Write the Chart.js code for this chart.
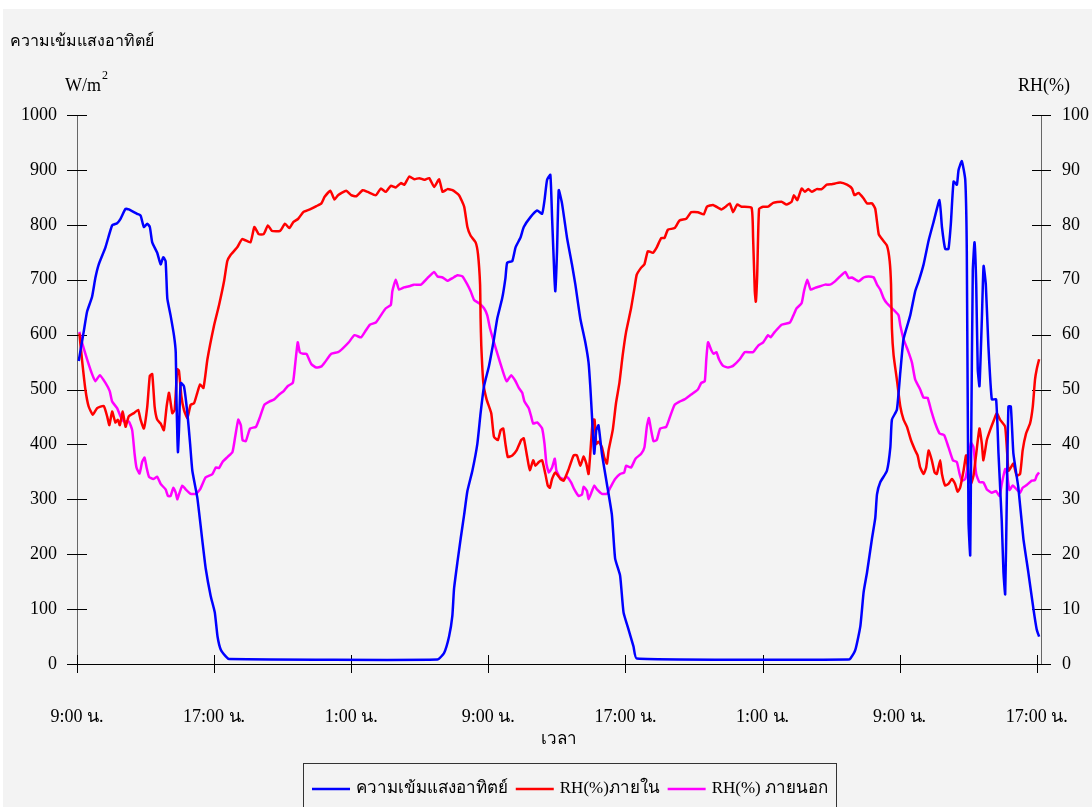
<!DOCTYPE html>
<html>
<head>
<meta charset="utf-8">
<script src="https://cdn.jsdelivr.net/npm/chart.js@4/dist/chart.umd.min.js"></script>
<style>
  html, body { margin: 0; padding: 0; background: #ffffff; }
  #c { display: block; }
</style>
</head>
<body>
<canvas id="c" width="1092" height="807"></canvas>
<script>
// Time axis: hours elapsed since 9:00 on the first day
const tickHours = [0, 8, 16, 24, 32, 40, 48, 56];
const tickLabels = ['9:00 น.', '17:00 น.', '1:00 น.', '9:00 น.', '17:00 น.', '1:00 น.', '9:00 น.', '17:00 น.'];

// Solar radiation (W/m²)
const solarHours = [0.1,0.39,0.59,0.88,1.07,1.27,1.66,2.05,2.34,2.54,2.83,3.02,3.51,3.71,3.9,4.1,4.25,4.39,4.68,4.88,5.03,5.17,5.27,5.46,5.66,5.76,5.81,5.89,5.95,6.05,6.24,6.44,6.6,6.73,7.02,7.32,7.51,7.8,8.04,8.2,8.39,8.68,8.88,
  21.03,21.42,21.71,21.9,22.0,22.2,22.39,22.59,22.78,23.07,23.36,23.55,23.75,24.04,24.33,24.52,24.81,25.0,25.1,25.4,25.59,25.88,26.07,26.46,26.85,27.14,27.28,27.43,27.62,27.72,27.86,27.91,28.01,28.11,28.3,28.59,28.88,29.08,29.37,29.66,29.85,29.95,30.05,30.18,30.3,30.43,30.63,30.92,31.21,31.4,31.69,31.89,32.18,32.47,32.66,
  45.0,45.13,45.42,45.71,45.9,46.1,46.39,46.58,46.68,46.87,47.26,47.46,47.55,47.84,48.04,48.23,48.62,48.91,49.11,49.4,49.69,49.98,50.33,50.47,50.66,50.85,50.99,51.15,51.34,51.44,51.63,51.83,51.92,52.02,52.12,52.17,52.27,52.37,52.47,52.56,52.66,52.8,52.9,53.03,53.18,53.38,53.63,53.77,53.96,54.06,54.16,54.25,54.35,54.49,54.64,54.93,55.22,55.51,55.81,56.0,56.14];
const solarValues = [552,605,642,669,703,728,759,799,803,811,829,828,820,817,796,802,796,768,749,728,741,734,666,635,598,568,475,386,426,512,506,457,401,352,303,223,174,124,94,50,26,14,9,
  8,20,50,87,137,186,229,272,315,352,401,457,506,543,592,629,666,703,731,734,759,777,796,814,826,820,845,882,891,814,703,679,752,863,839,777,728,691,629,586,549,506,451,383,426,435,383,328,272,192,161,94,63,32,10,
  8,10,26,69,131,167,229,266,309,331,352,395,445,463,531,592,635,679,697,728,771,805,845,796,756,756,802,879,873,900,916,882,752,260,198,383,716,768,691,537,506,629,725,691,580,482,482,383,260,167,127,291,469,469,383,321,229,167,100,63,50];

// Relative humidity inside (%)
const rhInHours = [0.14,0.29,0.49,0.68,0.92,1.17,1.56,1.76,1.89,2.05,2.24,2.38,2.5,2.67,2.83,3.02,3.32,3.57,3.71,3.9,4.1,4.25,4.39,4.53,4.68,4.88,5.07,5.23,5.37,5.56,5.7,5.85,5.95,6.09,6.24,6.44,6.63,6.83,7.02,7.18,7.38,7.61,8.0,8.29,8.58,8.77,8.96,9.35,9.64,10.12,10.35,10.6,10.89,11.14,11.37,11.85,12.14,12.39,12.62,12.91,13.2,13.59,13.97,14.26,14.45,14.78,15.03,15.23,15.71,16.0,16.29,16.67,16.96,17.44,17.73,18.02,18.31,18.6,18.9,19.1,19.39,19.68,19.97,20.26,20.55,20.84,21.13,21.33,21.62,21.91,22.29,22.59,22.78,22.97,23.26,23.4,23.52,23.55,23.59,23.71,23.9,24.17,24.33,24.56,24.72,24.87,25.0,25.14,25.4,25.65,25.92,26.07,26.27,26.42,26.62,26.75,26.95,27.14,27.33,27.47,27.59,27.72,27.91,28.21,28.4,28.69,28.98,29.17,29.37,29.56,29.72,29.85,29.99,30.1,30.2,30.3,30.43,30.63,30.76,30.92,31.02,31.26,31.45,31.65,31.84,32.04,32.33,32.53,32.66,32.92,33.11,33.31,33.6,33.83,34.09,34.28,34.48,34.87,35.16,35.55,35.84,36.23,36.57,36.76,37.11,37.6,37.85,38.09,38.28,38.52,38.77,39.36,39.45,39.55,39.61,39.69,39.8,40.04,40.33,40.62,41.11,41.4,41.7,41.83,42.03,42.28,42.48,42.67,42.87,43.16,43.45,43.75,44.04,44.54,44.93,45.22,45.36,45.61,45.9,46.1,46.39,46.58,46.78,46.97,47.26,47.42,47.5,47.55,47.65,47.84,48.04,48.23,48.43,48.66,48.91,49.05,49.2,49.4,49.55,49.69,49.88,50.04,50.17,50.37,50.47,50.66,50.85,51.05,51.24,51.38,51.53,51.73,51.88,52.02,52.16,52.31,52.47,52.66,52.8,52.89,53.09,53.28,53.51,53.67,53.86,54.16,54.35,54.49,54.64,54.83,55.03,55.18,55.38,55.61,55.77,55.9,56.0,56.14];
const rhInValues = [60.2,55.5,50,46.9,45.4,46.6,47,45.1,43.5,46,44,44.5,43.5,46,43.2,45.1,45.7,46.3,44.5,42.9,46.9,52.5,52.8,46.9,44.5,43.8,42.6,46.9,49.4,45.7,46.3,53.7,53.4,48.8,46.3,44.8,47.2,47.5,49.4,50.9,50.3,55.5,61.7,65.4,69.7,73.4,74.5,75.9,77.4,76.8,79.6,78.3,78.3,79.9,78.9,78.9,80.2,79.4,80.5,81.1,82.3,82.8,83.4,83.9,85.1,86.2,84.6,85.4,86.2,85.4,85.2,86.3,86,85.4,86.6,86,87.1,86.8,87.6,87.3,88.8,88.3,88.5,88.2,88.5,86.9,88.3,86,86.5,86.3,85.4,83.3,79.6,78,76.8,74.6,69.1,62.9,58,51.2,48.2,45.7,41.4,40.8,42.6,42.9,40.1,37.7,38,38.9,40.8,41.1,37.7,35.3,37.1,36.1,36.8,37.1,34.6,32.5,32.1,33.7,34.9,33.7,33.4,35.5,38,38,36.1,37.8,36.5,34.6,40.1,44.5,44.5,40.1,40.5,39.5,37.7,36.5,38.9,42.6,47.5,51.2,56.2,60.5,64.8,68.5,70.9,72.2,72.8,75.2,74.9,75.9,77.6,77.6,79.1,79.4,80.8,81.1,82.3,82.3,81.9,83.3,83.6,82.8,83.3,83.9,82.3,83.7,83.3,83.1,77.7,67.9,66,70.9,82.9,83.3,83.3,84,84.2,83.7,84.2,85.4,84.5,86.6,86,86.5,86,86.5,86.5,87.3,87.4,87.7,87.3,86.6,85.4,85.8,84.8,83.9,83.9,82.9,78.3,77.4,76.2,73.4,69.1,61.1,56.2,51.8,46.9,44.5,43.2,40.8,38.9,38,35.8,34.6,35.8,38.9,37.1,34.9,34.6,37.1,34.6,32.5,32.8,33.7,32.8,31.4,32.1,35.2,38,34.6,32.8,34.3,38.3,42.9,40.1,37.1,40.8,42.6,44.5,45.7,44.5,43.2,35.2,35.8,36.5,34.3,34.6,38.9,42,43.8,46.9,51.8,53.7,55.5];

// Relative humidity outside (%)
const rhOutHours = [0.14,0.29,0.59,0.88,1.07,1.33,1.66,1.91,2.05,2.34,2.54,2.73,3.02,3.22,3.36,3.47,3.65,3.8,3.94,4.06,4.2,4.45,4.68,4.88,5.17,5.31,5.46,5.62,5.76,5.85,5.95,6.15,6.34,6.63,6.93,7.18,7.51,7.9,8.1,8.29,8.49,8.78,9.07,9.23,9.41,9.56,9.66,9.85,10.1,10.44,10.69,10.93,11.22,11.51,11.8,12.06,12.29,12.59,12.68,12.88,13.0,13.2,13.39,13.68,13.97,14.26,14.45,14.84,15.23,15.51,15.86,16.19,16.57,16.86,17.09,17.44,17.73,18.02,18.31,18.4,18.6,18.79,19.08,19.37,19.66,20.07,20.45,20.84,21.03,21.33,21.62,21.91,22.2,22.49,22.78,22.97,23.17,23.46,23.75,23.94,24.1,24.33,24.56,24.81,25.07,25.34,25.59,25.78,25.98,26.11,26.36,26.5,26.62,26.85,27.14,27.28,27.39,27.53,27.72,27.88,27.97,28.17,28.4,28.59,28.83,29.02,29.27,29.47,29.56,29.76,29.85,30.05,30.18,30.34,30.63,30.92,31.13,31.4,31.69,31.93,32.04,32.33,32.59,32.92,33.11,33.25,33.37,33.5,33.64,33.83,34.03,34.38,34.61,34.87,35.16,35.45,35.84,36.23,36.43,36.63,36.72,36.82,37.02,37.15,37.31,37.46,37.7,37.99,38.28,38.67,38.97,39.45,39.75,40.04,40.33,40.47,40.72,41.11,41.6,41.8,41.99,42.28,42.42,42.61,42.81,43.06,43.36,43.65,43.94,44.23,44.53,44.83,45.03,45.22,45.61,45.9,46.19,46.49,46.68,46.87,47.07,47.26,47.65,47.94,48.04,48.23,48.52,48.72,48.91,49.2,49.4,49.63,49.83,50.08,50.33,50.6,50.85,51.11,51.34,51.5,51.63,51.83,51.96,52.16,52.31,52.47,52.66,52.89,53.09,53.38,53.63,53.83,53.96,54.16,54.25,54.41,54.6,54.83,55.03,55.18,55.42,55.71,55.9,56.0,56.14];
const rhOutValues = [60.5,58.6,55.5,52.8,51.5,52.6,51.2,49.7,47.8,46.6,45.1,44.2,44.2,42.6,38.3,35.8,34.7,36.8,37.6,35.8,34.1,33.7,34.1,32.8,31.8,30.6,30.6,32.1,31.2,30,30.9,32.5,31.8,31,31,31.8,34,34.6,35.8,35.7,36.8,37.7,38.6,41.4,44.5,43.5,40.8,40.6,42.9,43.2,45.1,47.2,47.8,48.2,49.1,49.7,50.6,51.2,53.1,58.6,56.8,56.5,56.5,54.6,54,54.2,54.9,56.5,56.8,57.5,58.6,59.9,59.5,60.8,61.8,62.2,63.5,64.8,65.4,67.9,70,68.2,68.6,68.8,69.1,69.1,70.3,71.4,70.6,70.4,69.8,70.3,70.8,70.6,69.1,67.9,66.3,65.7,64.8,63.5,61.1,58.6,56.2,53.7,51.5,52.6,51.5,50.3,49.4,47.8,46.6,45.1,43.8,44,42.9,40.1,36.5,34.9,35.8,37.4,35.3,34,33.7,34.1,33.1,31.8,30.6,30.9,32.3,31.5,30,31.5,32.5,31.8,31,31,32.2,33.7,34.6,34.9,36.1,35.8,37.4,38.3,39.5,43.2,44.8,42.6,40.6,40.8,42.9,43.2,45.1,47.2,47.8,48.2,49.1,50,51.2,51.5,55.5,58.6,57.1,56.5,56.8,55.5,54.3,54,54.3,55.5,56.8,56.8,58,58.6,59.9,59.5,60.5,61.8,62.2,63.5,64.8,65.7,67.9,70,68.2,68.5,68.8,69.1,69.1,69.7,70.6,71.4,70.3,70.4,69.7,70.4,70.6,70.4,69.1,68.2,66.6,65.7,64.5,63.5,61.7,59.2,56.8,54.9,51.8,50,48.5,48.5,46.3,43.8,42,41.7,39.5,37.1,36.8,34.6,33.4,33.7,35.8,40.3,39.5,34.6,33.1,33.1,31.8,31.2,31.5,30.6,32.8,35.5,34.9,31.7,32.5,31.8,31.2,32.1,32.6,33.4,33.5,34.3,34.9];

const FONT = "'Liberation Serif', 'Times New Roman', Norasi, Kinnari, Laksaman, serif";

function points(xs, ys) {
  return xs.map((x, i) => ({ x: x, y: ys[i] }));
}

// Page background with the light grey panel
const panelPlugin = {
  id: 'panel',
  beforeDraw(chart) {
    const ctx = chart.ctx;
    ctx.save();
    ctx.fillStyle = '#ffffff';
    ctx.fillRect(0, 0, chart.width, chart.height);
    ctx.fillStyle = '#f3f3f3';
    ctx.fillRect(3, 9, chart.width - 3, chart.height - 9);
    ctx.restore();
  }
};

// Axis lines with tick marks crossing them
const axesPlugin = {
  id: 'crossAxes',
  beforeDatasetsDraw(chart) {
    const ctx = chart.ctx;
    const a = chart.chartArea;
    const x = chart.scales.x, yl = chart.scales.y, yr = chart.scales.y1;
    ctx.save();
    ctx.lineWidth = 1;
    ctx.strokeStyle = '#666666';
    ctx.beginPath();
    ctx.moveTo(a.left + 0.5, a.top); ctx.lineTo(a.left + 0.5, a.bottom + 9);
    ctx.moveTo(a.right + 0.5, a.top); ctx.lineTo(a.right + 0.5, a.bottom);
    ctx.stroke();
    ctx.strokeStyle = '#000000';
    ctx.beginPath();
    yl.ticks.forEach(t => {
      const py = Math.round(yl.getPixelForValue(t.value)) + 0.5;
      ctx.moveTo(a.left - 10, py); ctx.lineTo(a.left + 10, py);
    });
    yr.ticks.forEach(t => {
      const py = Math.round(yr.getPixelForValue(t.value)) + 0.5;
      ctx.moveTo(a.right - 9, py); ctx.lineTo(a.right + 10, py);
    });
    const by = Math.round(a.bottom) + 0.5;
    ctx.moveTo(a.left - 10, by); ctx.lineTo(a.right + 10, by);
    x.ticks.forEach(t => {
      const px = Math.round(x.getPixelForValue(t.value)) + 0.5;
      ctx.moveTo(px, a.bottom - 9); ctx.lineTo(px, a.bottom + 9);
    });
    ctx.stroke();
    ctx.restore();
  }
};

// Titles, units, axis title and boxed legend
const labelsPlugin = {
  id: 'labels',
  afterDraw(chart) {
    const ctx = chart.ctx;
    const a = chart.chartArea;
    ctx.save();
    ctx.fillStyle = '#000000';
    ctx.textBaseline = 'middle';
    ctx.textAlign = 'left';
    ctx.font = '16px ' + FONT;
    ctx.fillText('ความเข้มแสงอาทิตย์', 10, 42);
    ctx.font = '18px ' + FONT;
    ctx.fillText('W/m', 65, 86);
    const wm = ctx.measureText('W/m').width;
    ctx.font = '12px ' + FONT;
    ctx.fillText('2', 65 + wm + 1, 76);
    ctx.font = '18px ' + FONT;
    ctx.fillText('RH(%)', 1018, 86);
    ctx.textAlign = 'center';
    ctx.font = '17px ' + FONT;
    ctx.fillText('เวลา', (a.left + a.right) / 2, 740);

    // legend
    ctx.strokeStyle = '#333333';
    ctx.lineWidth = 1;
    ctx.strokeRect(303.5, 763.5, 533, 50);
    ctx.textAlign = 'left';
    ctx.font = '17px ' + FONT;
    const items = chart.data.datasets;
    const widths = items.map(ds => ctx.measureText(ds.label).width);
    const sample = 38, textGap = 6;
    const inner = 836 - 8 - 312;
    const used = items.length * (sample + textGap) + widths.reduce((s, w) => s + w, 0);
    const gap = Math.max(4, (inner - used) / (items.length - 1));
    let lx = 312;
    const ly = 789;
    items.forEach((ds, i) => {
      ctx.strokeStyle = ds.borderColor;
      ctx.lineWidth = 2.5;
      ctx.beginPath();
      ctx.moveTo(lx, ly); ctx.lineTo(lx + sample, ly);
      ctx.stroke();
      ctx.fillText(ds.label, lx + sample + textGap, ly);
      lx += sample + textGap + widths[i] + gap;
    });
    ctx.restore();
  }
};

const tickFont = { family: FONT, size: 18 };

new Chart(document.getElementById('c'), {
  type: 'line',
  data: {
    datasets: [
      { label: 'ความเข้มแสงอาทิตย์', data: points(solarHours, solarValues), yAxisID: 'y',
        borderColor: '#0000ff', borderWidth: 2.5, pointRadius: 0, tension: 0.15, fill: false },
      { label: 'RH(%)ภายใน', data: points(rhInHours, rhInValues), yAxisID: 'y1',
        borderColor: '#ff0000', borderWidth: 2.5, pointRadius: 0, tension: 0.15, fill: false },
      { label: 'RH(%) ภายนอก', data: points(rhOutHours, rhOutValues), yAxisID: 'y1',
        borderColor: '#ff00ff', borderWidth: 2.5, pointRadius: 0, tension: 0.15, fill: false }
    ]
  },
  options: {
    responsive: false,
    devicePixelRatio: 1,
    animation: false,
    layout: { padding: { top: 115, left: 0, right: 0, bottom: 0 } },
    plugins: { legend: { display: false }, tooltip: { enabled: false } },
    scales: {
      x: {
        type: 'linear', min: 0, max: 56.25,
        afterBuildTicks: s => { s.ticks = tickHours.map(v => ({ value: v })); },
        afterFit: s => { s.height = 143; s.paddingLeft = 0; s.paddingRight = 0; },
        grid: { display: false, drawTicks: false },
        border: { display: false },
        ticks: { font: tickFont, color: '#000', padding: 42, maxRotation: 0, autoSkip: false,
                 callback: v => tickLabels[tickHours.indexOf(v)] }
      },
      y: {
        type: 'linear', position: 'left', min: 0, max: 1000,
        afterFit: s => { s.width = 77; s.paddingTop = 0; s.paddingBottom = 0; },
        grid: { display: false, drawTicks: false },
        border: { display: false },
        ticks: { stepSize: 100, font: tickFont, color: '#000', padding: 20, callback: v => String(v) }
      },
      y1: {
        type: 'linear', position: 'right', min: 0, max: 100,
        afterFit: s => { s.width = 51; s.paddingTop = 0; s.paddingBottom = 0; },
        grid: { display: false, drawTicks: false },
        border: { display: false },
        ticks: { stepSize: 10, font: tickFont, color: '#000', padding: 21, callback: v => String(v) }
      }
    }
  },
  plugins: [panelPlugin, axesPlugin, labelsPlugin]
});
</script>
</body>
</html>
